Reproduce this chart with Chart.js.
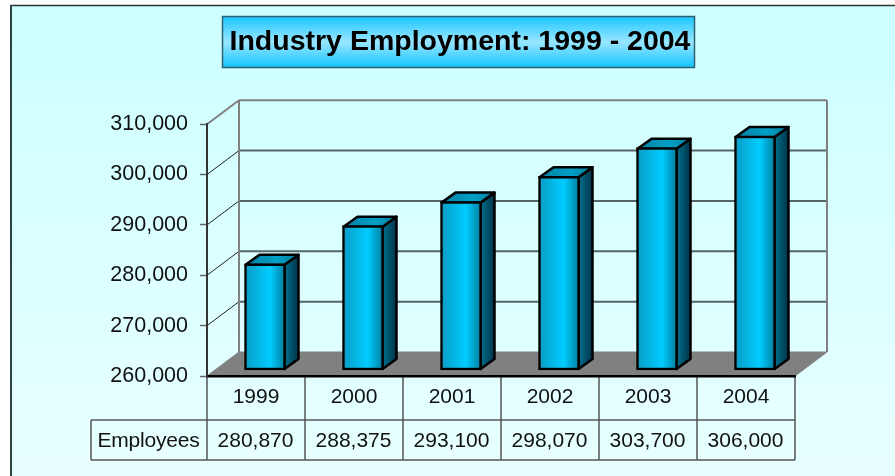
<!DOCTYPE html>
<html>
<head>
<meta charset="utf-8">
<title>Industry Employment</title>
<script src="https://cdn.jsdelivr.net/npm/chart.js@4"></script>
<style>
  html, body { margin: 0; padding: 0; background: #fff; }
  canvas { display: block; }
</style>
</head>
<body>
<canvas id="chart" width="895" height="476"></canvas>
<script>
const years = ['1999', '2000', '2001', '2002', '2003', '2004'];
const employees = [280870, 288375, 293100, 298070, 303700, 306000];
const seriesName = 'Employees';
const chartTitle = 'Industry Employment: 1999 - 2004';
const axisMin = 260000;
const axisMax = 310000;
const axisStep = 10000;
// Bars stand further back in the box, so their plane is scaled a touch larger than the front axis
const barPlaneMax = 309500;

const FONT = '"Liberation Sans", Arial, sans-serif';
const TEXT = '#111';
const fmt = (v) => Number(v).toLocaleString('en-US');

// Depth of the box behind the front plane, of each bar, and of the bars inside the box
const BOX_DX = 32, BOX_DY = 24;
const BAR_DX = 14, BAR_DY = 10;
const SHIFT_X = 9, SHIFT_Y = 6;

function hGradient(ctx, x0, x1, stops) {
  const g = ctx.createLinearGradient(x0, 0, x1, 0);
  stops.forEach(([at, c]) => g.addColorStop(at, c));
  return g;
}

function line(ctx, x0, y0, x1, y1, color, width) {
  ctx.beginPath();
  ctx.moveTo(x0, y0);
  ctx.lineTo(x1, y1);
  ctx.strokeStyle = color;
  ctx.lineWidth = width;
  ctx.stroke();
}

function poly(ctx, pts, fill) {
  ctx.beginPath();
  pts.forEach(([x, y], i) => (i ? ctx.lineTo(x, y) : ctx.moveTo(x, y)));
  ctx.closePath();
  ctx.fillStyle = fill;
  ctx.fill();
  ctx.stroke();
}

// Page background, outer frame and the title plate
function drawBackdrop(ctx, w, h) {
  const bg = ctx.createLinearGradient(0, 5, 0, h);
  bg.addColorStop(0, '#CCFFFF');
  bg.addColorStop(1, '#E8FFFF');
  ctx.fillStyle = '#fff';
  ctx.fillRect(0, 0, w, h);
  ctx.fillStyle = bg;
  ctx.fillRect(11, 5, w - 11, h - 5);
  line(ctx, 10, 5.5, w, 5.5, '#333', 1.5);
  line(ctx, 11, 5, 11, h, '#2c4444', 2);

  const plate = ctx.createLinearGradient(0, 16, 0, 68);
  plate.addColorStop(0, '#18C6FF');
  plate.addColorStop(0.5, '#99E6FF');
  plate.addColorStop(1, '#0FC4FF');
  ctx.fillStyle = plate;
  ctx.fillRect(222, 16, 473, 52);
  ctx.strokeStyle = '#2f6070';
  ctx.lineWidth = 1.5;
  ctx.strokeRect(222.5, 16.5, 472, 51);
}

// Back wall, side wall and floor of the 3D box
function drawBox(ctx, x, y, area) {
  const { left, right, top, bottom } = area;
  const bl = left + BOX_DX, br = right + BOX_DX;
  y.ticks.forEach((t) => {
    const py = y.getPixelForValue(t.value);
    if (t.value === y.min || t.value === y.max) return;
    line(ctx, left, py, bl, py - BOX_DY, '#222', 1);
    line(ctx, bl, py - BOX_DY, br, py - BOX_DY, '#566666', 2);
  });
  line(ctx, left, top, bl, top - BOX_DY, '#808080', 2);
  line(ctx, bl, top - BOX_DY, br, top - BOX_DY, '#808080', 2);
  line(ctx, bl, top - BOX_DY, bl, bottom - BOX_DY, '#808080', 2);
  line(ctx, br, top - BOX_DY, br, bottom - BOX_DY, '#808080', 2);
  ctx.strokeStyle = '#808080';
  ctx.lineWidth = 1;
  poly(ctx, [[left, bottom], [bl, bottom - BOX_DY], [br, bottom - BOX_DY], [right, bottom]], '#808080');
}

// Year cells and the data row below the axis
function drawTable(ctx, x, area) {
  const rowTop = 420, rowBottom = 460, tableLeft = 91;
  const { left, right, bottom } = area;
  const colW = x.getPixelForValue(1) - x.getPixelForValue(0);
  const c = '#555';
  line(ctx, tableLeft, rowTop, right, rowTop, c, 1.5);
  line(ctx, tableLeft, rowBottom, right, rowBottom, c, 1.5);
  line(ctx, tableLeft, rowTop, tableLeft, rowBottom, c, 1.5);
  for (let i = 0; i <= years.length; i++) {
    const px = left + i * colW;
    line(ctx, px, bottom, px, rowBottom, c, 1.5);
  }
  ctx.fillStyle = TEXT;
  ctx.textBaseline = 'middle';
  ctx.textAlign = 'center';
  ctx.font = '21px ' + FONT;
  employees.forEach((v, i) => ctx.fillText(fmt(v), x.getPixelForValue(i) - 0.5, 441));
  ctx.letterSpacing = '-0.2px';
  ctx.fillText(seriesName, (tableLeft + left) / 2 - 0.5, 441);
  ctx.letterSpacing = '0px';
}

const boxPlugin = {
  id: 'box3d',
  // The value labels hang left of the padded layout box, so widen what they may paint in
  afterLayout(chart) {
    chart.scales.y.left = 30;
  },
  beforeDraw(chart) {
    const { ctx, chartArea, scales } = chart;
    ctx.save();
    drawBackdrop(ctx, chart.width, chart.height);
    drawBox(ctx, scales.x, scales.y, chartArea);
    drawTable(ctx, scales.x, chartArea);
    ctx.restore();
  },
  // Side and top faces go under the front faces; the whole bar sits inside the box
  beforeDatasetsDraw(chart) {
    const { ctx } = chart;
    ctx.save();
    ctx.translate(SHIFT_X, -SHIFT_Y);
    ctx.strokeStyle = '#000';
    ctx.lineWidth = 2.5;
    ctx.lineJoin = 'round';
    chart.getDatasetMeta(0).data.forEach((bar) => {
      const xl = bar.x - bar.width / 2 + 1, xr = bar.x + bar.width / 2 - 1;
      const t = bar.y + 1, b = bar.base - 1;
      poly(ctx, [[xr, t], [xr + BAR_DX, t - BAR_DY], [xr + BAR_DX, b - BAR_DY], [xr, b]],
        hGradient(ctx, xr, xr + BAR_DX, [[0, '#006F8C'], [1, '#00344A']]));
      poly(ctx, [[xl, t], [xl + BAR_DX, t - BAR_DY], [xr + BAR_DX, t - BAR_DY], [xr, t]],
        hGradient(ctx, xl, xr + BAR_DX, [[0, '#007FA0'], [0.6, '#00A0C8'], [1, '#007C9C']]));
    });
  },
  afterDatasetsDraw(chart) {
    chart.ctx.restore();
  },
};

new Chart(document.getElementById('chart'), {
  type: 'bar',
  plugins: [boxPlugin],
  data: {
    labels: years,
    datasets: [{
      label: seriesName,
      data: employees,
      yAxisID: 'barPlane',
      base: axisMin,
      barThickness: 41,
      borderWidth: 2.5,
      borderColor: '#000',
      borderSkipped: false,
      clip: false,
      backgroundColor(c) {
        const { chart, dataIndex } = c;
        if (!chart.chartArea) return '#00CCFF';
        const cx = chart.scales.x.getPixelForValue(dataIndex);
        return hGradient(chart.ctx, cx - 20, cx + 20, [[0, '#0A9CC4'], [0.62, '#00CCFF'], [1, '#007F9F']]);
      },
    }],
  },
  options: {
    responsive: false,
    animation: false,
    layout: { padding: { left: 125, right: 100, top: 0, bottom: 0 } },
    plugins: {
      legend: { display: false },
      tooltip: { enabled: false },
      title: {
        display: true,
        text: chartTitle,
        color: '#000',
        font: { family: FONT, size: 28.5, weight: 'bold', lineHeight: 1.2 },
        padding: { top: 25, bottom: 65 },
      },
    },
    scales: {
      x: {
        grid: { display: false },
        border: { color: '#000', width: 2.5 },
        ticks: { color: TEXT, font: { family: FONT, size: 21 }, padding: 1, maxRotation: 0 },
        afterFit(s) { s.height = 100; },
      },
      y: {
        min: axisMin,
        max: axisMax,
        grid: { drawOnChartArea: false, tickLength: 7, tickColor: '#666', tickWidth: 1.5 },
        border: { color: '#333', width: 2 },
        ticks: {
          stepSize: axisStep,
          color: TEXT,
          font: { family: FONT, size: 21.5 },
          padding: 12,
          callback: fmt,
        },
        afterFit(s) { s.width = 82; },
      },
      barPlane: {
        display: false,
        min: axisMin,
        max: barPlaneMax,
      },
    },
  },
});
</script>
</body>
</html>
